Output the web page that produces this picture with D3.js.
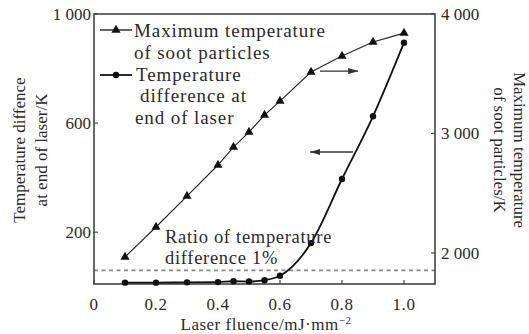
<!DOCTYPE html>
<html><head><meta charset="utf-8">
<script src="https://cdn.jsdelivr.net/npm/d3@7"></script>
<style>body{margin:0;background:#fff}svg{display:block}text{font-family:"Liberation Serif","Times New Roman",serif;fill:#2a2a2a}</style>
</head><body><svg id="c" width="529" height="334"></svg>
<script>
const fluence = [0.1,0.2,0.3,0.4,0.45,0.5,0.55,0.6,0.7,0.8,0.9,1.0];
const maxTemp = [1966,2217,2476,2736,2886,3012,3154,3271,3514,3648,3765,3840];
const tempDiff = [15,15,16,17,20,19,24,40,160,395,625,895];
const xTicks = [0,0.2,0.4,0.6,0.8,1.0];
const xTickLabels = ["0","0.2","0.4","0.6","0.8","1.0"];
const yLTicks = [200,600,1000];
const yLTickLabels = ["200","600","1 000"];
const yRTicks = [2000,3000,4000];
const yRTickLabels = ["2 000","3 000","4 000"];
const ratioLine = 60;

const L=94,R=435,T=14,B=284;
const svg=d3.select("#c");
const x=d3.scaleLinear().domain([0,1.1]).range([L,R]);
const yL=d3.scaleLinear().domain([10,1000]).range([B,T]);
const yR=d3.scaleLinear().domain([1740,4000]).range([B,T]);

const defs=svg.append("defs");
defs.append("marker").attr("id","ah").attr("viewBox","0 0 10 6").attr("refX",10).attr("refY",3)
  .attr("markerWidth",10).attr("markerHeight",6).attr("markerUnits","userSpaceOnUse").attr("orient","auto")
  .append("path").attr("d","M0,0L10,3L0,6Z").attr("fill","#333");

svg.append("line").attr("x1",L).attr("x2",R).attr("y1",yL(ratioLine)).attr("y2",yL(ratioLine))
  .attr("stroke","#8a8a8a").attr("stroke-width",1.6).attr("stroke-dasharray","4,3.5");

svg.append("rect").attr("x",L).attr("y",T).attr("width",R-L).attr("height",B-T)
  .attr("fill","none").attr("stroke","#444").attr("stroke-width",1.6);

const gx=svg.append("g");
xTicks.forEach((t,i)=>{
  gx.append("line").attr("x1",x(t)).attr("x2",x(t)).attr("y1",B).attr("y2",B-4).attr("stroke","#444").attr("stroke-width",1.2);
  gx.append("text").attr("x",x(t)).attr("y",B+26).attr("text-anchor","middle").attr("font-size",17).attr("letter-spacing",0.6).text(xTickLabels[i]);
});
yLTicks.forEach((t,i)=>{
  svg.append("line").attr("x1",L).attr("x2",L+4).attr("y1",yL(t)).attr("y2",yL(t)).attr("stroke","#444").attr("stroke-width",1.2);
  svg.append("text").attr("x",L-3).attr("y",yL(t)+6).attr("text-anchor","end").attr("font-size",17).text(yLTickLabels[i]);
});
yRTicks.forEach((t,i)=>{
  svg.append("line").attr("x1",R).attr("x2",R-4).attr("y1",yR(t)).attr("y2",yR(t)).attr("stroke","#444").attr("stroke-width",1.2);
  svg.append("text").attr("x",R+6).attr("y",yR(t)+6).attr("text-anchor","start").attr("font-size",17).text(yRTickLabels[i]);
});

svg.append("path").datum(fluence.map((f,i)=>[f,maxTemp[i]]))
  .attr("d",d3.line().x(d=>x(d[0])).y(d=>yR(d[1])))
  .attr("fill","none").attr("stroke","#222").attr("stroke-width",1.1);
svg.append("path").datum(fluence.map((f,i)=>[f,tempDiff[i]]))
  .attr("d",d3.line().curve(d3.curveMonotoneX).x(d=>x(d[0])).y(d=>yL(d[1])))
  .attr("fill","none").attr("stroke","#111").attr("stroke-width",1.8);

const tri=d3.symbol(d3.symbolTriangle).size(36);
svg.append("g").selectAll("path").data(fluence).join("path")
  .attr("d",tri).attr("transform",(d,i)=>`translate(${x(d)},${yR(maxTemp[i])})`).attr("fill","#111");
svg.append("g").selectAll("circle").data(fluence).join("circle")
  .attr("cx",d=>x(d)).attr("cy",(d,i)=>yL(tempDiff[i])).attr("r",3.2).attr("fill","#111");

svg.append("line").attr("x1",x(0.729)).attr("x2",x(0.852)).attr("y1",yR(3522)).attr("y2",yR(3522))
  .attr("stroke","#333").attr("stroke-width",1.3).attr("marker-end","url(#ah)");
svg.append("line").attr("x1",x(0.835)).attr("x2",x(0.697)).attr("y1",yL(494)).attr("y2",yL(494))
  .attr("stroke","#333").attr("stroke-width",1.3).attr("marker-end","url(#ah)");

const lg=svg.append("g");
lg.append("line").attr("x1",100).attr("x2",132).attr("y1",30).attr("y2",30).attr("stroke","#222").attr("stroke-width",1.4);
lg.append("path").attr("d",tri).attr("transform","translate(116,30)").attr("fill","#111");
lg.append("line").attr("x1",100).attr("x2",132).attr("y1",75).attr("y2",75).attr("stroke","#111").attr("stroke-width",1.8);
lg.append("circle").attr("cx",116).attr("cy",75).attr("r",3.2).attr("fill","#111");
const legLines=[["Maximum temperature",134,37],["of soot particles",134,59],["Temperature",136,81],["difference at",140,102],["end of laser",135,124]];
legLines.forEach(l=>lg.append("text").attr("x",l[1]).attr("y",l[2]).attr("font-size",19).attr("letter-spacing",0.9).text(l[0]));

svg.append("text").attr("x",165).attr("y",243).attr("font-size",18.5).attr("letter-spacing",0.7).text("Ratio of temperature");
svg.append("text").attr("x",165).attr("y",264).attr("font-size",18.5).attr("letter-spacing",0.7).text("difference 1%");

const lt=svg.append("text").attr("transform","translate(0,150) rotate(-90)").attr("text-anchor","middle").attr("font-size",17);
lt.append("tspan").attr("x",0).attr("y",25).text("Temperature diffence");
lt.append("tspan").attr("x",0).attr("y",47).text("at  end of laser/K");
const rt=svg.append("text").attr("transform","translate(529,150) rotate(90)").attr("text-anchor","middle").attr("font-size",17);
rt.append("tspan").attr("x",0).attr("y",15).text("Maximum temperature");
rt.append("tspan").attr("x",0).attr("y",35).text("of soot particles/K");

svg.append("text").attr("x",266).attr("y",330).attr("text-anchor","middle").attr("font-size",17).attr("letter-spacing",0.5).html("Laser fluence/mJ·mm<tspan dy='-6' font-size='11'>−2</tspan>");
</script></body></html>
